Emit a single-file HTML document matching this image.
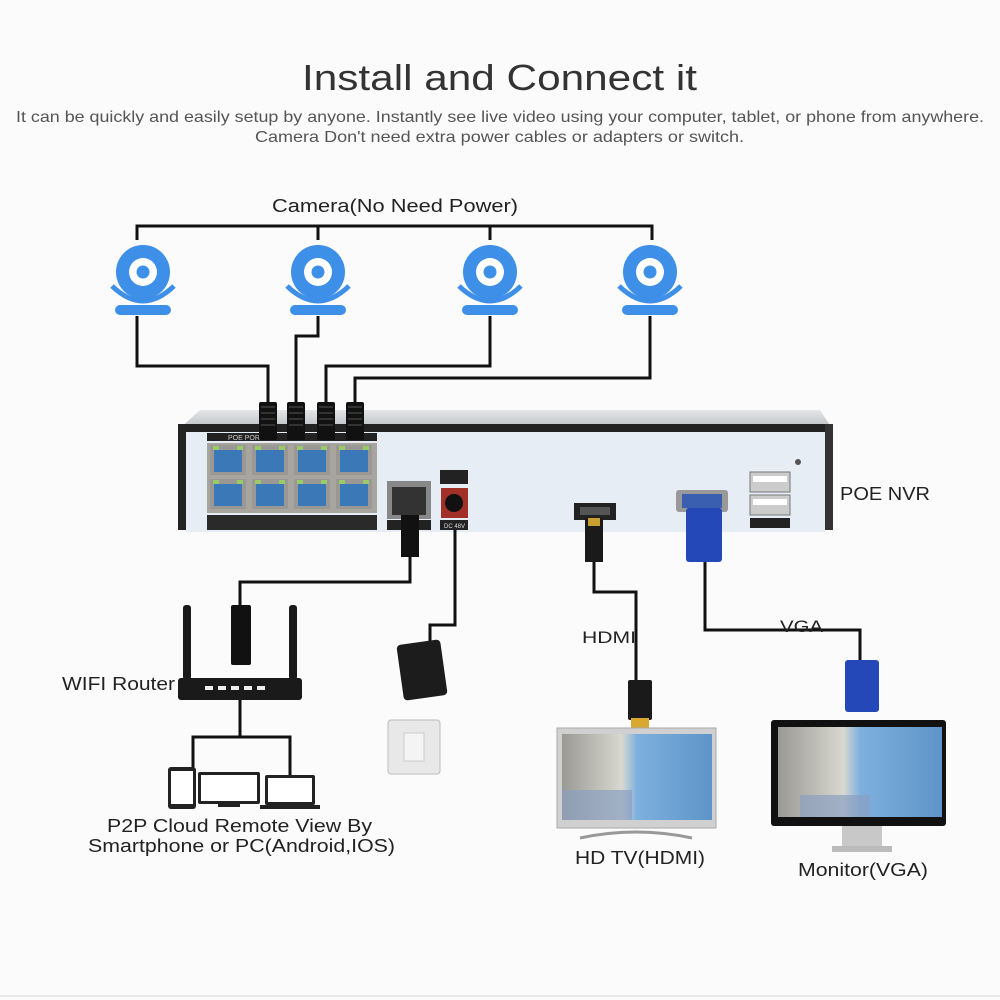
<!DOCTYPE html>
<html><head><meta charset="utf-8"><style>
html,body{margin:0;padding:0;background:#fbfbfb;}
svg{display:block;font-family:"Liberation Sans",sans-serif;}
</style></head><body>
<svg width="1000" height="1000" viewBox="0 0 1000 1000" xmlns="http://www.w3.org/2000/svg">
<defs>
<linearGradient id="scene" x1="0" y1="0" x2="1" y2="0">
<stop offset="0" stop-color="#9a9a94"/><stop offset="0.4" stop-color="#d8d8d0"/><stop offset="0.5" stop-color="#7eb0de"/><stop offset="1" stop-color="#5e94c8"/></linearGradient>
<linearGradient id="top" x1="0" y1="0" x2="0" y2="1"><stop offset="0" stop-color="#e4e6e8"/><stop offset="1" stop-color="#b8bcc0"/></linearGradient>
<g id="cam">
<circle cx="0" cy="0" r="27" fill="#3d8fe8"/>
<circle cx="0" cy="0" r="14" fill="#fff"/>
<circle cx="0" cy="0" r="6.5" fill="#3d8fe8"/>
<path d="M-31,14 Q0,44 31,14" stroke="#3d8fe8" stroke-width="5" fill="none"/>
<rect x="-28" y="33" width="56" height="10" rx="5" fill="#3d8fe8"/>
</g>
<g id="rj"><rect x="-9" y="0" width="18" height="38" rx="2" fill="#111"/><rect x="-7" y="4" width="14" height="2" fill="#333"/><rect x="-7" y="10" width="14" height="2" fill="#333"/><rect x="-7" y="16" width="14" height="2" fill="#333"/><rect x="-7" y="22" width="14" height="2" fill="#333"/></g>
<g id="port"><rect x="0" y="0" width="36" height="30" fill="#9a9894"/><rect x="4" y="5" width="28" height="22" fill="#3a78b8"/><rect x="3" y="1" width="6" height="4" fill="#9c6"/><rect x="27" y="1" width="6" height="4" fill="#9c6"/></g>
</defs>

<text x="302" y="90" font-size="36" fill="#333" textLength="395" lengthAdjust="spacingAndGlyphs">Install and Connect it</text>
<text x="16" y="122" font-size="16" fill="#555" textLength="968" lengthAdjust="spacingAndGlyphs">It can be quickly and easily setup by anyone. Instantly see live video using your computer, tablet, or phone from anywhere.</text>
<text x="255" y="142" font-size="16" fill="#555" textLength="489" lengthAdjust="spacingAndGlyphs">Camera Don't need extra power cables or adapters or switch.</text>

<text x="272" y="212" font-size="18" fill="#222" textLength="246" lengthAdjust="spacingAndGlyphs">Camera(No Need Power)</text>

<g stroke="#111" stroke-width="3" fill="none">
<path d="M137,240 V226 H652 V240"/>
<path d="M318,226 V240 M490,226 V240"/>
<path d="M137,316 V366 H268 V405"/>
<path d="M318,316 V336 H296 V405"/>
<path d="M490,316 V366 H326 V405"/>
<path d="M650,316 V378 H355 V405"/>
</g>
<use href="#cam" x="143" y="272"/>
<use href="#cam" x="318" y="272"/>
<use href="#cam" x="490" y="272"/>
<use href="#cam" x="650" y="272"/>

<!-- NVR -->
<polygon points="200,410 820,410 833,430 178,430" fill="url(#top)"/>
<rect x="178" y="424" width="655" height="8" fill="#222"/>
<rect x="178" y="424" width="8" height="106" fill="#222"/>
<rect x="825" y="424" width="8" height="106" fill="#333"/>
<rect x="186" y="432" width="639" height="100" fill="#e6edf4"/>
<rect x="207" y="433" width="170" height="8" fill="#222"/>
<text x="228" y="440" font-size="7" fill="#ccc">POE PORT</text>
<rect x="207" y="443" width="170" height="70" fill="#a8a49e"/>
<use href="#port" x="210" y="445"/><use href="#port" x="252" y="445"/><use href="#port" x="294" y="445"/><use href="#port" x="336" y="445"/>
<use href="#port" x="210" y="479"/><use href="#port" x="252" y="479"/><use href="#port" x="294" y="479"/><use href="#port" x="336" y="479"/>
<rect x="207" y="515" width="170" height="15" fill="#2a2a2a"/>
<rect x="387" y="481" width="44" height="38" fill="#888"/><rect x="392" y="487" width="34" height="28" fill="#333"/>
<rect x="387" y="520" width="44" height="10" fill="#222"/>
<rect x="440" y="470" width="28" height="14" fill="#222"/>
<rect x="441" y="488" width="27" height="30" fill="#a03028"/><circle cx="454" cy="503" r="9" fill="#111"/>
<rect x="440" y="520" width="28" height="10" fill="#222"/>
<text x="444" y="528" font-size="6" fill="#ddd">DC 48V</text>
<rect x="574" y="503" width="42" height="17" fill="#222"/>
<rect x="580" y="507" width="30" height="8" fill="#555"/>
<rect x="676" y="490" width="52" height="22" rx="3" fill="#999"/><rect x="682" y="494" width="40" height="14" fill="#3a5fb0"/>
<rect x="750" y="472" width="40" height="20" fill="#ccc" stroke="#777"/><rect x="750" y="495" width="40" height="20" fill="#ccc" stroke="#777"/>
<rect x="753" y="476" width="34" height="6" fill="#fff"/><rect x="753" y="499" width="34" height="6" fill="#fff"/>
<rect x="750" y="518" width="40" height="10" fill="#222"/>
<circle cx="798" cy="462" r="3" fill="#555"/>
<text x="840" y="500" font-size="18" fill="#222" textLength="90" lengthAdjust="spacingAndGlyphs">POE NVR</text>

<use href="#rj" x="268" y="402"/><use href="#rj" x="296" y="402"/><use href="#rj" x="326" y="402"/><use href="#rj" x="355" y="402"/>

<g stroke="#111" stroke-width="3" fill="none">
<path d="M410,555 V582 H240 V610"/>
<path d="M455,530 V625 H430 V645"/>
<path d="M594,560 V592 H636 V680"/>
<path d="M705,560 V630 H860 V662"/>
<path d="M240,700 V737 M193,770 V737 H290 V775"/>
</g>
<rect x="401" y="515" width="18" height="42" fill="#111"/>
<rect x="585" y="518" width="18" height="44" fill="#1a1a1a"/><rect x="588" y="518" width="12" height="8" fill="#c9a030"/>
<rect x="686" y="508" width="36" height="54" rx="3" fill="#2448b8"/>
<rect x="231" y="605" width="20" height="60" rx="2" fill="#111"/>
<text x="582" y="643" font-size="17" fill="#222" textLength="54" lengthAdjust="spacingAndGlyphs">HDMI</text>
<text x="780" y="632" font-size="17" fill="#222" textLength="43" lengthAdjust="spacingAndGlyphs">VGA</text>
<rect x="628" y="680" width="24" height="40" rx="2" fill="#1a1a1a"/><rect x="631" y="718" width="18" height="12" fill="#d8a830"/>
<rect x="845" y="660" width="34" height="52" rx="3" fill="#2448b8"/>

<rect x="400" y="642" width="44" height="56" rx="4" fill="#1c1c1c" transform="rotate(-8 422 670)"/>
<rect x="388" y="720" width="52" height="54" rx="3" fill="#e8e8e8" stroke="#bbb"/>
<rect x="404" y="733" width="20" height="28" fill="#f4f4f4" stroke="#ccc"/>

<rect x="183" y="605" width="8" height="75" rx="3" fill="#1a1a1a"/>
<rect x="289" y="605" width="8" height="75" rx="3" fill="#1a1a1a"/>
<rect x="178" y="678" width="124" height="22" rx="3" fill="#1a1a1a"/>
<g fill="#eee"><rect x="205" y="686" width="8" height="4"/><rect x="218" y="686" width="8" height="4"/><rect x="231" y="686" width="8" height="4"/><rect x="244" y="686" width="8" height="4"/><rect x="257" y="686" width="8" height="4"/></g>
<text x="62" y="690" font-size="18" fill="#222" textLength="113" lengthAdjust="spacingAndGlyphs">WIFI Router</text>

<rect x="168" y="767" width="28" height="42" rx="3" fill="#222"/><rect x="171" y="771" width="22" height="33" fill="#fff"/>
<rect x="198" y="772" width="62" height="32" rx="2" fill="#222"/><rect x="201" y="775" width="56" height="26" fill="#fff"/>
<rect x="218" y="804" width="22" height="3" fill="#222"/>
<rect x="265" y="775" width="50" height="30" rx="2" fill="#222"/><rect x="268" y="778" width="44" height="24" fill="#fff"/>
<rect x="260" y="805" width="60" height="4" fill="#222"/>
<text x="107" y="832" font-size="18" fill="#222" textLength="265" lengthAdjust="spacingAndGlyphs">P2P Cloud Remote View By</text>
<text x="88" y="852" font-size="18" fill="#222" textLength="307" lengthAdjust="spacingAndGlyphs">Smartphone or PC(Android,IOS)</text>

<rect x="557" y="728" width="159" height="100" fill="#d0d0d0" stroke="#aaa"/>
<rect x="562" y="734" width="150" height="86" fill="url(#scene)"/>
<rect x="562" y="790" width="70" height="30" fill="#8aa0c0" opacity="0.7"/>
<path d="M580,838 Q636,826 692,838" stroke="#999" stroke-width="3" fill="none"/>
<text x="575" y="864" font-size="18" fill="#222" textLength="130" lengthAdjust="spacingAndGlyphs">HD TV(HDMI)</text>

<rect x="771" y="720" width="175" height="106" rx="3" fill="#111"/>
<rect x="778" y="727" width="164" height="90" fill="url(#scene)"/>
<rect x="800" y="795" width="70" height="22" fill="#8aa0c0" opacity="0.7"/>
<rect x="842" y="826" width="40" height="22" fill="#c8c8c8"/>
<rect x="832" y="846" width="60" height="6" fill="#bbb"/>
<text x="798" y="876" font-size="18" fill="#222" textLength="130" lengthAdjust="spacingAndGlyphs">Monitor(VGA)</text>

<rect x="0" y="995" width="1000" height="2" fill="#e8e8e8"/>
</svg>
</body></html>
